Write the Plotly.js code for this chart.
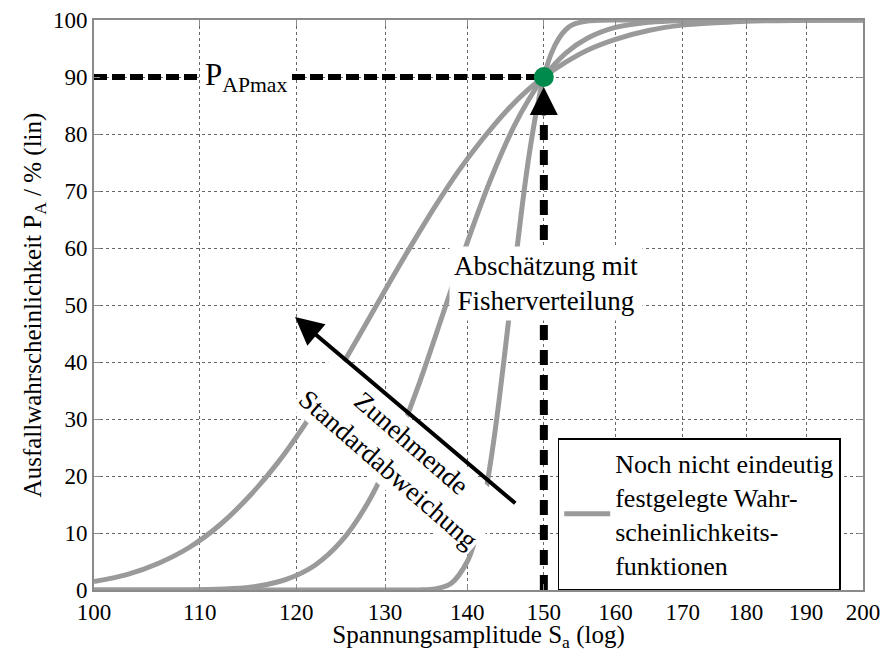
<!DOCTYPE html>
<html><head><meta charset="utf-8">
<script src="https://cdn.plot.ly/plotly-3.0.1.min.js"></script>
<style>body{margin:0;background:#fff}#chart{width:884px;height:652px}</style>
</head><body><div id="chart"></div>
<script>
// ---- data ----
const xTicks = [100,110,120,130,140,150,160,170,180,190,200];
const xTickText = ["100","110","120","130","140","150","160","170","180","190","200"];
const yTicks = [0,10,20,30,40,50,60,70,80,90,100];

// widest curve (largest standard deviation)
const wideX = [100,103,106,109,112,115,118,121,124,127,130,133,136,139,142,145,148,150,153,156,160,165,170,175,180,190,200];
const wideY = [1.5,2.7,4.7,7.5,11.4,16.4,22.3,29.2,36.7,44.6,52.6,60.2,67.3,73.7,79.2,84.0,87.9,90.0,92.6,94.7,96.6,98.2,99.1,99.5,99.8,99.95,100];
// middle curve
const midX = [100,110,113,116,119,122,125,128,131,134,137,140,143,146,148,150,153,156,160,165,170,180,200];
const midY = [0,0.06,0.23,0.7,1.9,4.3,8.6,15.3,24.6,36.0,48.6,61.0,72.1,81.3,86.1,90.0,94.2,96.8,98.7,99.6,99.9,100,100];
// steepest curve (smallest standard deviation)
const steepX = [100,130,134,136,138,140,141,142,143,144,145,146,147,148,149,150,151,152,153,154,156,158,160,200];
const steepY = [0,0,0.02,0.2,1.2,5.0,8.9,14.8,22.7,32.5,43.7,55.2,66.3,76.1,84.0,90.0,94.1,96.7,98.3,99.2,99.8,99.97,100,100];

// P_APmax point and guide lines
const pointX = [150];
const pointY = [90];
const hLineX = [100,150];
const hLineY = [90,90];
const vLineX = [150,150];
const vLineY = [0,83];

const legendName = "Noch nicht eindeutig<br>festgelegte Wahr-<br>scheinlichkeits-<br>funktionen";
const yTitle = "Ausfallwahrscheinlichkeit P<sub>A</sub> / % (lin)";
const xTitle = "Spannungsamplitude S<sub>a</sub> (log)";

const FONT = "Liberation Serif, Times New Roman, serif";
const GRAY = "#9a9a9a";
const L = Math.log10;

const traces = [
  {x: wideX, y: wideY, mode: "lines", line: {color: GRAY, width: 5, shape: "spline"}, name: legendName, legendgroup: "g", showlegend: true},
  {x: midX, y: midY, mode: "lines", line: {color: GRAY, width: 5, shape: "spline"}, legendgroup: "g", showlegend: false},
  {x: steepX, y: steepY, mode: "lines", line: {color: GRAY, width: 5, shape: "spline"}, legendgroup: "g", showlegend: false},
  {x: hLineX, y: hLineY, mode: "lines", line: {color: "#000", width: 6, dash: "13px,5px"}, showlegend: false},
  {x: vLineX, y: vLineY, mode: "lines", line: {color: "#000", width: 8, dash: "15px,10px"}, showlegend: false},
  {x: pointX, y: pointY, mode: "markers", marker: {color: "#008a4c", size: 20}, showlegend: false}
];

const axisCommon = {
  showgrid: true, gridcolor: "#666", griddash: "dot", gridwidth: 1,
  showline: true, mirror: "ticks", linecolor: "#8a8a8a", linewidth: 2,
  ticks: "inside", ticklen: 6, tickcolor: "#8a8a8a",
  zeroline: false,
  tickfont: {family: FONT, size: 23, color: "#000"}
};

const layout = {
  width: 884, height: 652,
  margin: {l: 94, r: 21, t: 20, b: 62},
  paper_bgcolor: "#fff", plot_bgcolor: "#fff",
  font: {family: FONT, color: "#000"},
  xaxis: Object.assign({}, axisCommon, {
    type: "log", range: [2, L(200)], tickvals: xTicks, ticktext: xTickText,
    title: {text: xTitle, font: {family: FONT, size: 25, color: "#000"}, standoff: 0}
  }),
  yaxis: Object.assign({}, axisCommon, {
    range: [0, 100], tickvals: yTicks,
    title: {text: yTitle, font: {family: FONT, size: 25, color: "#000"}, standoff: 4}
  }),
  showlegend: true,
  legend: {
    x: 0.603, y: 0.133, xanchor: "left", yanchor: "middle",
    bgcolor: "#fff", bordercolor: "#000", borderwidth: 1.5,
    font: {family: FONT, size: 26, color: "#000"},
    itemwidth: 46
  },
  annotations: [
    {x: L(114.7), y: 90, xref: "x", yref: "y", text: "P<sub>APmax</sub>", showarrow: false,
     font: {family: FONT, size: 31, color: "#000"}, bgcolor: "#fff", borderpad: 4},
    {x: L(150), y: 90, xref: "x", yref: "y", text: "", showarrow: true, ax: 0, ay: 40,
     arrowhead: 2, arrowsize: 1.4, arrowwidth: 4, arrowcolor: "#000", standoff: 10},
    {x: L(150.3), y: 53.8, xref: "x", yref: "y", text: "Abschätzung mit<br>Fisherverteilung", showarrow: false,
     font: {family: FONT, size: 27, color: "#000"}, bgcolor: "#fff", borderpad: 4},
    {x: L(131.8), y: 23.5, xref: "x", yref: "y", text: "Zunehmende<br>Standardabweichung", showarrow: false,
     textangle: 41, font: {family: FONT, size: 27, color: "#000"}, bgcolor: "#fff", borderpad: 2},
    {x: 2.0787, y: 47.9, xref: "x", yref: "y", ax: 2.1655, ay: 15.0, axref: "x", ayref: "y",
     text: "", showarrow: true, arrowhead: 2, arrowsize: 1.4, arrowwidth: 4, arrowcolor: "#000"}
  ]
};

Plotly.newPlot("chart", traces, layout, {displayModeBar: false, staticPlot: true});
</script>
</body></html>
